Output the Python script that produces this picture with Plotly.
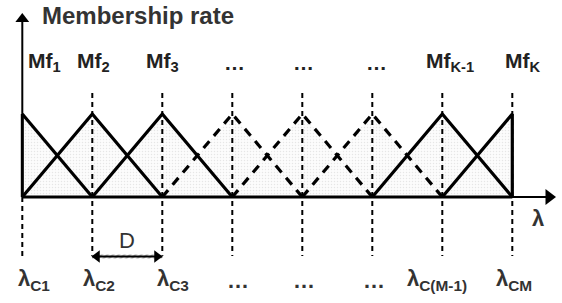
import plotly.graph_objects as go
import numpy as np

# ---- data ----
centers = [0, 1, 2, 3, 4, 5, 6, 7]            # positions of lambda_C1 .. lambda_CM
top_labels = ["Mf<sub>1</sub>", "Mf<sub>2</sub>", "Mf<sub>3</sub>", "…", "…", "…",
              "Mf<sub>K-1</sub>", "Mf<sub>K</sub>"]
bottom_labels = ["λ<sub>C1</sub>", "λ<sub>C2</sub>", "λ<sub>C3</sub>", "…", "…", "…",
                 "λ<sub>C(M-1)</sub>", "λ<sub>CM</sub>"]
peak = 1.0
# membership functions: (left, centre, right, style)
mfs = [
    (None, 0, 1, "solid"),
    (0, 1, 2, "solid"),
    (1, 2, 3, "solid"),
    (2, 3, 4, "dash"),
    (3, 4, 5, "dash"),
    (4, 5, 6, "dash"),
    (5, 6, 7, "solid"),
    (6, 7, None, "solid"),
]

# pixel mapping helpers (range choices)
x0px, dxpx = 22.3, 70.0
y0px, dypx = 197.0, 83.0
W, H = 562, 303
xr = [(-x0px) / dxpx, (W - x0px) / dxpx]
yr = [(y0px - H) / dypx, y0px / dypx]
def yv(px):
    return (y0px - px) / dypx
def xv(px):
    return (px - x0px) / dxpx

fig = go.Figure()

# envelope fill
xs = np.linspace(centers[0], centers[-1], 141)
def mu(x, l, c, r):
    if x <= c:
        if l is None:
            return peak if x >= c else 0.0
        return max(0.0, peak * (x - l) / (c - l))
    else:
        if r is None:
            return 0.0
        return max(0.0, peak * (r - x) / (r - c))
env = [max(mu(x, l, c, r) for (l, c, r, s) in mfs) for x in xs]
fx = [centers[0]] + list(xs) + [centers[-1]]
fy = [0] + env + [0]
fig.add_trace(go.Scatter(x=fx, y=fy, mode="lines", line=dict(width=0),
                         fill="toself", fillcolor="white",
                         fillpattern=dict(shape=".", fgcolor="#d0d0d0", bgcolor="#fcfcfc",
                                          size=3, solidity=0.2),
                         hoverinfo="skip", showlegend=False))

# vertical dashed guide lines
for c in centers:
    top = yv(93)
    bot = yv(256)
    ys_ = [0, bot] if c == centers[0] else [top, bot]
    fig.add_trace(go.Scatter(x=[c, c], y=ys_, mode="lines",
                             line=dict(color="black", width=2, dash="5px,4px"),
                             hoverinfo="skip", showlegend=False))

# triangles
for (l, c, r, s) in mfs:
    px, py = [], []
    if l is None:
        px += [c]; py += [peak]
    else:
        px += [l, c]; py += [0, peak]
    if r is None:
        px += [c]; py += [0]
    else:
        px += [r]; py += [0]
    fig.add_trace(go.Scatter(x=px, y=py, mode="lines",
                             line=dict(color="black", width=3.2,
                                       dash="solid" if s == "solid" else "9px,7px"),
                             hoverinfo="skip", showlegend=False))

# thick baseline
fig.add_trace(go.Scatter(x=[centers[0], centers[-1]], y=[0, 0], mode="lines",
                         line=dict(color="black", width=3), hoverinfo="skip",
                         showlegend=False))

# axes (lines + arrowhead markers)
fig.add_trace(go.Scatter(x=[0, 0], y=[0, yv(20)], mode="lines",
                         line=dict(color="black", width=2), hoverinfo="skip", showlegend=False))
fig.add_trace(go.Scatter(x=[0], y=[yv(19)], mode="markers",
                         marker=dict(symbol="triangle-up", size=12, color="black"),
                         hoverinfo="skip", showlegend=False))
fig.add_trace(go.Scatter(x=[0, xv(550)], y=[0, 0], mode="lines",
                         line=dict(color="black", width=2), hoverinfo="skip", showlegend=False))
fig.add_trace(go.Scatter(x=[xv(549)], y=[0], mode="markers",
                         marker=dict(symbol="triangle-right", size=14, color="black"),
                         hoverinfo="skip", showlegend=False))
# thick left edge of Mf1
fig.add_trace(go.Scatter(x=[centers[0], centers[0]], y=[0, peak], mode="lines",
                         line=dict(color="black", width=3), hoverinfo="skip",
                         showlegend=False))

# D bar (hatched) with double arrow
dy = yv(256.5)
fig.add_trace(go.Scatter(x=[1, 2, 2, 1, 1], y=[dy + 0.025, dy + 0.025, dy - 0.025, dy - 0.025, dy + 0.025],
                         mode="lines", line=dict(width=0), fill="toself", fillcolor="white",
                         fillpattern=dict(shape="/", fgcolor="#555", bgcolor="white", size=4, solidity=0.5),
                         hoverinfo="skip", showlegend=False))
fig.add_trace(go.Scatter(x=[1, 2], y=[dy, dy], mode="lines",
                         line=dict(color="black", width=2), hoverinfo="skip", showlegend=False))
fig.add_trace(go.Scatter(x=[xv(97), xv(157)], y=[dy, dy], mode="markers",
                         marker=dict(symbol=["triangle-left", "triangle-right"], size=11, color="black"),
                         hoverinfo="skip", showlegend=False))

annotations = []
font_b = dict(family="Arial, Liberation Sans, sans-serif", color="#222", size=21)
annotations.append(dict(x=xv(40), y=yv(15), xref="x", yref="y", text="<b>Membership rate</b>",
                        showarrow=False, xanchor="left", yanchor="middle",
                        font=dict(family="Arial, Liberation Sans, sans-serif", color="#333", size=24)))

top_x_px = [44, 93, 162, 234, 303, 376, 450, 523]
for lab, c, tpx in zip(top_labels, centers, top_x_px):
    annotations.append(dict(x=xv(tpx), y=yv(62), xref="x", yref="y", text="<b>" + lab + "</b>",
                            showarrow=False, xanchor="center", yanchor="middle", font=font_b))

bot_x_px = [34, 99, 173, 238, 304, 374, 437, 514]
for lab, c, bpx in zip(bottom_labels, centers, bot_x_px):
    annotations.append(dict(x=xv(bpx), y=yv(280), xref="x", yref="y", text="<b>" + lab + "</b>",
                            showarrow=False, xanchor="center", yanchor="middle",
                            font=dict(family="Arial, Liberation Sans, sans-serif", color="#333", size=22)))

annotations.append(dict(x=xv(538), y=yv(218), xref="x", yref="y", text="<b>λ</b>",
                        showarrow=False, font=dict(family="Arial, Liberation Sans, sans-serif", color="#333", size=22)))
annotations.append(dict(x=xv(127), y=yv(240), xref="x", yref="y", text="D",
                        showarrow=False, font=dict(family="Arial, Liberation Sans, sans-serif", color="#333", size=22)))

fig.update_layout(
    width=W, height=H, margin=dict(l=0, r=0, t=0, b=0),
    paper_bgcolor="white", plot_bgcolor="white",
    xaxis=dict(range=xr, visible=False, fixedrange=True),
    yaxis=dict(range=yr, visible=False, fixedrange=True),
    annotations=annotations, showlegend=False,
)
fig.write_html("out.html", config={"displayModeBar": False},
               post_script="document.body.style.margin='0';document.body.style.overflow='hidden';")
